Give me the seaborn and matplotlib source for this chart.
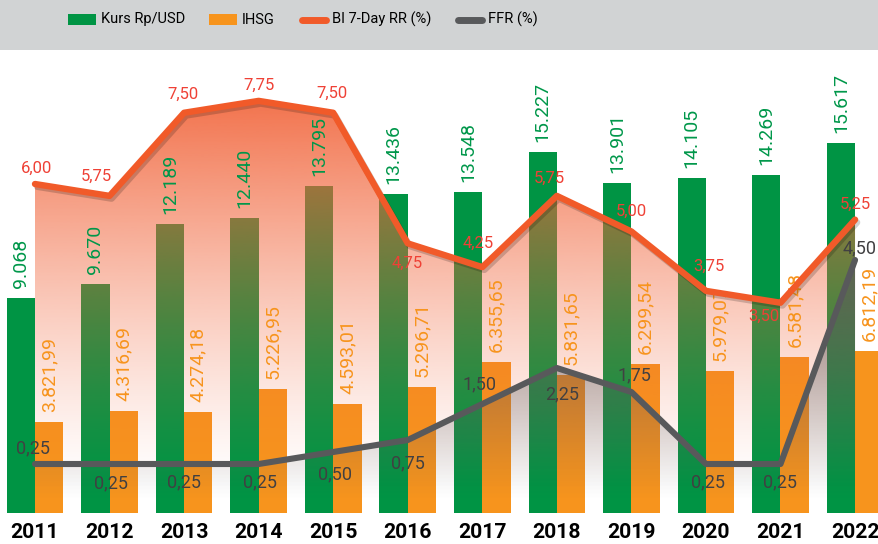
import numpy as np
import pandas as pd
import matplotlib
matplotlib.use("Agg")
import matplotlib.pyplot as plt
import seaborn as sns
import matplotlib.patheffects as pe
from matplotlib import font_manager
from matplotlib.colors import to_rgb
from matplotlib.patches import Rectangle
from matplotlib.lines import Line2D

# ---------------- data ----------------
years = ["2011", "2012", "2013", "2014", "2015", "2016",
         "2017", "2018", "2019", "2020", "2021", "2022"]
kurs = [9068, 9670, 12189, 12440, 13795, 13436, 13548, 15227, 13901, 14105, 14269, 15617]
ihsg = [3821.99, 4316.69, 4274.18, 5226.95, 4593.01, 5296.71,
        6355.65, 5831.65, 6299.54, 5979.07, 6581.48, 6812.19]
bi_rate = [6.00, 5.75, 7.50, 7.75, 7.50, 4.75, 4.25, 5.75, 5.00, 3.75, 3.50, 5.25]
ffr = [0.25, 0.25, 0.25, 0.25, 0.50, 0.75, 1.50, 2.25, 1.75, 0.25, 0.25, 4.50]
series_names = ["Kurs Rp/USD", "IHSG", "BI 7-Day RR (%)", "FFR (%)"]

# ---------------- layout / style ----------------
W, H = 879, 544
GREEN, ORANGE = "#009444", "#F7941D"
BI_COLOR, FFR_COLOR = "#F15A29", "#58595B"
BI_TXT, FFR_TXT = "#EF4136", "#414042"
GREEN_TXT, ORANGE_TXT = "#00974A", "#F7941D"
# label offsets in pixels (dx, dy) ; dy > 0 means downward
bi_off = [(2, -16), (-13, -20), (-1, -18), (0, -16), (-1, -19), (-1, 20),
          (-4, -24), (-7, -18), (0, -20), (3, -25), (-17, 14), (0, -15)]
ffr_off = [(-2, -16), (1, 19), (0, 18), (1, 18), (2, 22), (0, 23),
           (-3, -20), (5, 26), (3, -17), (2, 18), (0, 18), (5, -12)]

sns.set_theme(style="white")
plt.rcParams["font.family"] = ["Roboto", "DejaVu Sans"]

fig = plt.figure(figsize=(W / 100, H / 100), dpi=100)
fig.patch.set_facecolor("white")


def fx(px):
    return px / W


def fy(py):
    return 1 - py / H


AX_TOP, AX_BOT = 50, 513
ax = fig.add_axes([0, fy(AX_BOT), 1, (AX_BOT - AX_TOP) / H])
ax.set_facecolor("white")

X0, STEP = 35.0, 74.55
XLIM = ((0 - X0) / STEP, (W - X0) / STEP)
BAR_LIM = (0, (AX_BOT - AX_TOP) / 0.02372)
BI_LIM = ((469 - AX_BOT) / 47.5, (469 - AX_TOP) / 47.5)
FFR_LIM = ((476 - AX_BOT) / 48.0, (476 - AX_TOP) / 48.0)

# ---------------- bars ----------------
df = pd.DataFrame({
    "Tahun": years * 2,
    "Nilai": kurs + ihsg,
    "Seri": [series_names[0]] * len(years) + [series_names[1]] * len(years),
})
sns.barplot(data=df, x="Tahun", y="Nilai", hue="Seri", order=years,
            hue_order=series_names[:2], palette=[GREEN, ORANGE],
            width=0.76, linewidth=0, saturation=1, errorbar=None,
            legend=False, ax=ax)
ax.set_xlim(*XLIM)
ax.set_ylim(*BAR_LIM)

ax2 = ax.twinx()
ax3 = ax.twinx()
ax2.set_ylim(*BI_LIM)
ax3.set_ylim(*FFR_LIM)
for a in (ax, ax2, ax3):
    for s in a.spines.values():
        s.set_visible(False)
    a.set_yticks([])
    a.set_ylabel("")
ax.set_xlabel("")
ax.set_xticks(range(len(years)))
ax.set_xticklabels(years)
ax.tick_params(axis="x", length=0, pad=7.5, labelsize=15.2, labelcolor="black")
for lbl in ax.get_xticklabels():
    lbl.set_fontweight("bold")

xpos = np.arange(len(years), dtype=float)


def gradient_fill(axg, x, y, color, alpha_fn, zorder):
    ylo, yhi = axg.get_ylim()
    poly = axg.fill_between(x, y, ylo, facecolor="none", edgecolor="none")
    path = poly.get_paths()[0]
    vals = np.linspace(ylo, yhi, 400)
    rgba = np.zeros((400, 1, 4))
    rgba[..., :3] = to_rgb(color)
    rgba[:, 0, 3] = alpha_fn(vals)
    im = axg.imshow(rgba, extent=[x[0], x[-1], ylo, yhi], origin="lower",
                    aspect="auto", interpolation="bilinear", zorder=zorder)
    im.set_clip_path(path, transform=axg.transData)
    axg.set_xlim(*XLIM)
    axg.set_ylim(ylo, yhi)


def bi_alpha(v):
    t = np.clip((v + 0.5) / (7.75 + 0.5), 0, 1)
    return 0.9 * t ** 1.3


def ffr_alpha(v):
    t = np.clip((v + 0.5) / 5.0, 0, 1)
    return 0.7 * t


gradient_fill(ax2, xpos, bi_rate, "#F1643A", bi_alpha, 1)
gradient_fill(ax3, xpos, ffr, "#5A5A5C", ffr_alpha, 1)

# ---------------- bar labels (above fill, below lines) ----------------
n = len(years)
bars = ax.patches
for k, p in enumerate(bars[:2 * n]):
    is_kurs = k < n
    v = p.get_height()
    txt = (f"{v:,.0f}".replace(",", ".") if is_kurs
           else f"{v:,.2f}".replace(",", "X").replace(".", ",").replace("X", "."))
    ax2.annotate(txt, xy=(p.get_x() + p.get_width() / 2, v), xycoords=ax.transData,
                 xytext=(0, 10), textcoords="offset pixels", rotation=90,
                 ha="center", va="bottom", fontsize=14,
                 color=GREEN_TXT if is_kurs else ORANGE_TXT, zorder=2)

# ---------------- lines ----------------
sns.lineplot(x=xpos, y=bi_rate, ax=ax2, color=BI_COLOR, linewidth=4.6, sort=False)
ln = ax2.lines[-1]
ln.set_zorder(3)
ln.set_solid_capstyle("round")
ln.set_solid_joinstyle("round")
ln.set_path_effects([pe.SimpleLineShadow(offset=(1.5, -2), alpha=0.18, shadow_color="black"),
                     pe.Normal()])

sns.lineplot(x=xpos, y=ffr, ax=ax3, color=FFR_COLOR, linewidth=4.4, sort=False)
ln2 = ax3.lines[-1]
ln2.set_zorder(3)
ln2.set_solid_capstyle("round")
ln2.set_solid_joinstyle("round")

for i, v in enumerate(bi_rate):
    dx, dy = bi_off[i]
    ax2.annotate(f"{v:.2f}".replace(".", ","), xy=(xpos[i], v), xytext=(dx, -dy),
                 textcoords="offset pixels", ha="center", va="center",
                 fontsize=12, color=BI_TXT, zorder=4)
for i, v in enumerate(ffr):
    dx, dy = ffr_off[i]
    ax3.annotate(f"{v:.2f}".replace(".", ","), xy=(xpos[i], v), xytext=(dx, -dy),
                 textcoords="offset pixels", ha="center", va="center",
                 fontsize=13, color=FFR_TXT, zorder=4)

for a, lim in ((ax, BAR_LIM), (ax2, BI_LIM), (ax3, FFR_LIM)):
    a.set_xlim(*XLIM)
    a.set_ylim(*lim)
    if a.get_legend() is not None:
        a.get_legend().remove()

# ---------------- legend band ----------------
fig.add_artist(Rectangle((0, fy(50)), 1, 50 / H, transform=fig.transFigure,
                         facecolor="#D1D3D4", edgecolor="none", zorder=0))
names = {f.name for f in font_manager.fontManager.ttflist}
if "Liberation Sans Narrow" in names:
    LEG_FAMILY, LEG_SIZE = ["Liberation Sans Narrow", "DejaVu Sans"], 11.5
else:
    LEG_FAMILY, LEG_SIZE = ["Roboto", "DejaVu Sans"], 10.5

renderer = fig.canvas.get_renderer()
ly = 19.5
entries = [("patch", GREEN), ("patch", ORANGE), ("line", BI_COLOR), ("line", FFR_COLOR)]
cur = 68.0
for (kind, col), name in zip(entries, series_names):
    if kind == "patch":
        fig.add_artist(Rectangle((fx(cur), fy(25)), 28 / W, 11 / H,
                                 transform=fig.transFigure, facecolor=col,
                                 edgecolor="none", zorder=5))
    else:
        fig.add_artist(Line2D([fx(cur + 3), fx(cur + 27)], [fy(ly), fy(ly)],
                              transform=fig.transFigure, color=col, linewidth=5,
                              solid_capstyle="round", zorder=5))
    t = fig.text(fx(cur + 33), fy(ly), name, ha="left", va="center",
                 fontsize=LEG_SIZE, family=LEG_FAMILY, color="black", zorder=6)
    bb = t.get_window_extent(renderer)
    cur = bb.x1 + 24

fig.savefig("out.png", dpi=100)
